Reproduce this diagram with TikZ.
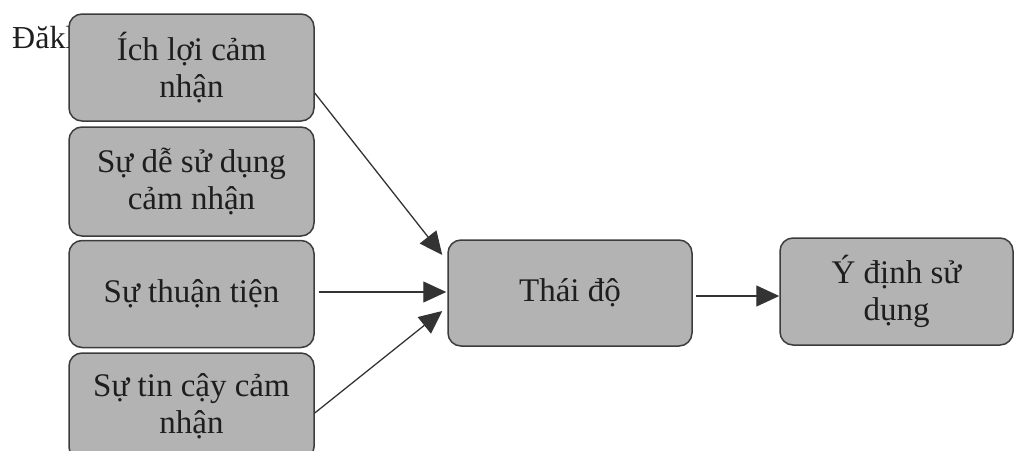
\documentclass[tikz,border=0pt]{standalone}
\usepackage{fontspec}
\setmainfont{Liberation Serif}
\usetikzlibrary{arrows.meta,calc}
\definecolor{boxfill}{HTML}{B3B3B3}
\definecolor{boxline}{HTML}{3C3C3C}
\definecolor{inkc}{HTML}{1E1E1E}
\definecolor{arrowc}{HTML}{333333}
\begin{document}
\begin{tikzpicture}[x=1pt,y=-1pt,
  factor/.style={draw=boxline,line width=1.5pt,fill=boxfill,rounded corners=13pt,
    minimum width=#1,inner sep=0pt,align=center,text=inkc,
    font=\fontsize{33}{37}\selectfont},
  factor/.default=245pt,
  link/.style={draw=arrowc,line width=1.3pt,-{Triangle[length=23pt,width=21pt]}}]
\useasboundingbox (0,0) rectangle (1014,450);
\clip (0,0) rectangle (1014,450);
% heading text partly hidden behind the first box
\node[anchor=base west,inner sep=0pt,text=inkc,font=\fontsize{32}{36}\selectfont] (head) at (12,48) {Đăkl};
% input factors
\node[factor,minimum height=107pt] (b1) at (191.5,67.5) {Ích lợi cảm\\nhận};
\node[factor,minimum height=109pt] (b2) at (191.5,181.5) {Sự dễ sử dụng\\cảm nhận};
\node[factor,minimum height=107pt] (b3) at (191.5,294) {Sự thuận tiện};
\node[factor,minimum height=107pt] (b4) at (191.5,406.5) {Sự tin cậy cảm\\nhận};
% attitude and intention
\node[factor=244pt,minimum height=106pt] (att) at (570,293) {Thái độ};
\node[factor=233pt,minimum height=107pt] (int) at (896.5,291.5) {Ý định sử\\dụng};
% connectors
\draw[link] ($(b1.east)+(0,25.5)$) -- ($(att.west)+(-5,-38)$);
\draw[link] ($(b3.east)+(4,-2)$) -- ($(att.west)+(-1,-1)$);
\draw[link] ($(b4.east)+(0,6.5)$) -- ($(att.west)+(-5,18)$);
\draw[link] ($(att.east)+(3,3)$) -- ($(int.west)+(0,4.5)$);
\end{tikzpicture}
\end{document}
